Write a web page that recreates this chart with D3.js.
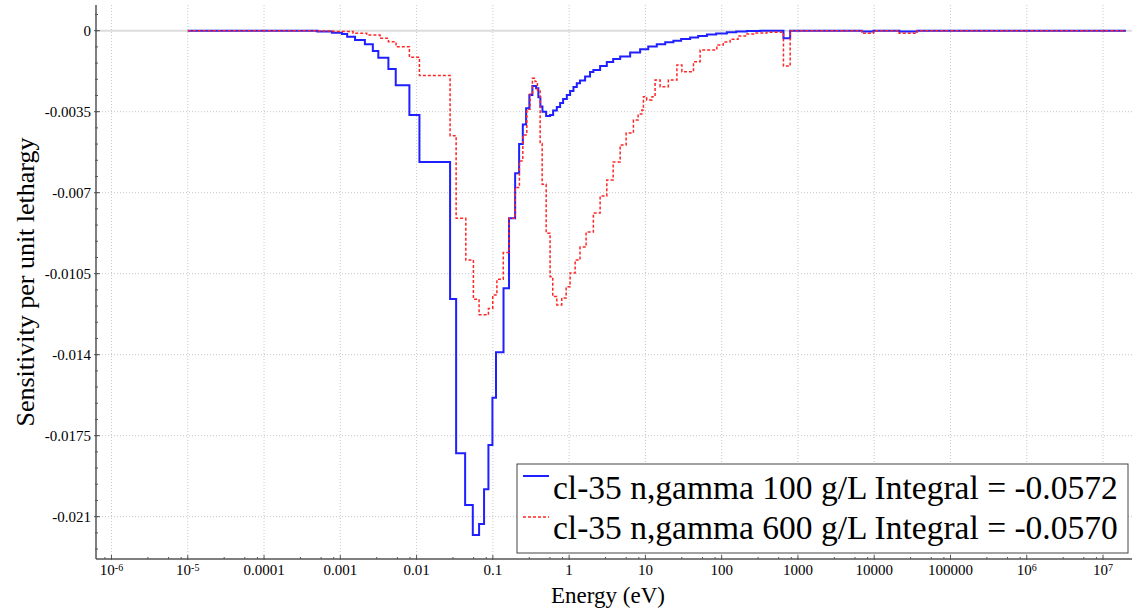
<!DOCTYPE html>
<html>
<head>
<meta charset="utf-8">
<script src="https://cdn.jsdelivr.net/npm/d3@7"></script>
<style>
  body { margin: 0; background: #fff; }
  text { font-family: "Liberation Serif", "Times New Roman", serif; }
</style>
</head>
<body>
<div id="chart"></div>
<script>
// group lower bounds (eV) and sensitivity per unit lethargy
const blueE = [1e-5, 5e-4, 7.8e-4, 1.05e-3, 1.23e-3, 1.56e-3, 2.1e-3, 2.67e-3, 3.15e-3, 4.27e-3,
  5.33e-3, 8.05e-3, 0.0109, 0.0275, 0.033, 0.0433, 0.0546, 0.066, 0.0767, 0.0875,
  0.0987, 0.110, 0.138, 0.163, 0.196, 0.221, 0.247, 0.273, 0.301, 0.330,
  0.369, 0.395, 0.420, 0.447, 0.50, 0.563, 0.617, 0.69, 0.762, 0.834,
  0.933, 1.03, 1.14, 1.26, 1.39, 1.62, 1.88, 2.08, 2.55, 3.12,
  3.78, 4.67, 6.31, 8.53, 10.9, 14.1, 18.2, 23.3, 29.4, 38.6,
  49.2, 64, 84.7, 117, 155, 214, 320, 646, 791, 6900,
  9800, 21300, 36600];
const blueV = [0, -0.00003, -0.00009, -0.00014, -0.00026, -0.0004, -0.00059, -0.00088, -0.00117, -0.00166,
  -0.00236, -0.00364, -0.00567, -0.0116, -0.01826, -0.0205, -0.02179, -0.02132, -0.01982, -0.0179,
  -0.01586, -0.0139, -0.01113, -0.0081, -0.00616, -0.0049, -0.00405, -0.00335, -0.00278, -0.00239,
  -0.00249, -0.00288, -0.00328, -0.0035, -0.00369, -0.00364, -0.00345, -0.0033, -0.00312, -0.00295,
  -0.00278, -0.00261, -0.00243, -0.00227, -0.00215, -0.00198, -0.00179, -0.0017, -0.00153, -0.00135,
  -0.00122, -0.00112, -0.00094, -0.0008, -0.00068, -0.00059, -0.0005, -0.00043, -0.00036, -0.00029,
  -0.00023, -0.00017, -0.00012, -0.00007, -0.00004, -0.00001, 0, -0.00033, 0, -0.00004,
  0, -0.00004, 0];

const redE = [1e-5, 5e-4, 8.0e-4, 1.47e-3, 2.22e-3, 3.32e-3, 4.27e-3, 5.38e-3, 8.05e-3, 0.0109,
  0.0275, 0.033, 0.0442, 0.0556, 0.066, 0.0875, 0.0997, 0.113, 0.137, 0.163,
  0.196, 0.223, 0.247, 0.279, 0.308, 0.330, 0.358, 0.384, 0.417, 0.443,
  0.50, 0.563, 0.61, 0.69, 0.80, 0.914, 1.03, 1.20, 1.39, 1.67,
  2.08, 2.55, 3.12, 3.78, 4.67, 5.59, 6.97, 8.03, 8.98, 9.42,
  10.4, 12.2, 13.4, 15.6, 20.0, 25.9, 30.1, 42.7, 52.2, 86.5,
  105, 129, 164, 214, 283, 392, 646, 791, 6900, 9800,
  21300, 36600];
const redV = [0, -0.00001, -0.00004, -0.00011, -0.00019, -0.00033, -0.00048, -0.00069, -0.00115, -0.00194,
  -0.00454, -0.00811, -0.00991, -0.01161, -0.01228, -0.012, -0.01142, -0.01074, -0.00959, -0.00811,
  -0.00678, -0.00563, -0.00451, -0.0034, -0.00274, -0.00206, -0.0022, -0.00256, -0.00487, -0.00664,
  -0.00875, -0.01063, -0.01149, -0.01185, -0.01155, -0.01107, -0.01047, -0.00991, -0.00935, -0.0087,
  -0.00788, -0.00714, -0.00645, -0.00567, -0.00494, -0.00442, -0.00386, -0.0036, -0.00343, -0.00285,
  -0.00299, -0.00285, -0.00213, -0.00242, -0.00213, -0.00148, -0.00177, -0.00134, -0.00083, -0.00062,
  -0.00049, -0.00037, -0.00023, -0.00014, -0.0001, -0.00007, -0.00153, 0, -0.00011, 0,
  -0.00011, 0];

const eMax = 2e7;

const xTickExps = [-6, -5, -4, -3, -2, -1, 0, 1, 2, 3, 4, 5, 6, 7];
const xTickLabels = ["10|-6", "10|-5", "0.0001", "0.001", "0.01", "0.1", "1", "10", "100", "1000",
  "10000", "100000", "10|6", "10|7"];
const xMinorMult = [3, 5.6, 8.2];
const yTicks = [0, -0.0035, -0.007, -0.0105, -0.014, -0.0175, -0.021];
const yTickLabels = ["0", "-0.0035", "-0.007", "-0.0105", "-0.014", "-0.0175", "-0.021"];
const yMinorStep = 0.0007;

const seriesNames = ["cl-35 n,gamma 100 g/L Integral = -0.0572",
  "cl-35 n,gamma 600 g/L Integral = -0.0570"];

let width = 1132, height = 610;
let margin = {top: 5, right: 0, bottom: 51, left: 96};

let svg = d3.select("#chart").append("svg")
  .attr("width", width)
  .attr("height", height);

let x = d3.scaleLog()
  .domain([Math.pow(10, -6.2032), Math.pow(10, 7.380)])
  .range([margin.left, width - margin.right]);

let y = d3.scaleLinear()
  .domain([-0.02283, 0.00111])
  .range([height - margin.bottom, margin.top]);

let x0 = margin.left, x1 = width - margin.right;
let y0 = height - margin.bottom, y1 = margin.top;

// grid
let grid = svg.append("g");
grid.selectAll(".vgrid")
  .data(xTickExps)
  .enter().append("line")
  .attr("x1", d => x(Math.pow(10, d))).attr("x2", d => x(Math.pow(10, d)))
  .attr("y1", y1).attr("y2", y0)
  .attr("stroke", "#c8c8c8")
  .attr("stroke-dasharray", "1,2");
grid.selectAll(".hgrid")
  .data(yTicks.filter(d => d !== 0))
  .enter().append("line")
  .attr("x1", x0).attr("x2", x1)
  .attr("y1", d => y(d)).attr("y2", d => y(d))
  .attr("stroke", "#c8c8c8")
  .attr("stroke-dasharray", "1,2");
grid.append("line")
  .attr("x1", x0).attr("x2", x1)
  .attr("y1", y(0)).attr("y2", y(0))
  .attr("stroke", "#dcdcdc")
  .attr("stroke-width", 2);

// curves
function steps(E, V) {
  let pts = E.map((e, i) => [e, V[i]]);
  pts.push([eMax, V[V.length - 1]]);
  return pts;
}

let line = d3.line()
  .x(d => x(d[0]))
  .y(d => y(d[1]))
  .curve(d3.curveStepAfter);

svg.append("path")
  .attr("d", line(steps(blueE, blueV)))
  .attr("fill", "none")
  .attr("stroke", "#1f1fff")
  .attr("stroke-width", 2);

svg.append("path")
  .attr("d", line(steps(redE, redV)))
  .attr("fill", "none")
  .attr("stroke", "#ff2626")
  .attr("stroke-width", 1.5)
  .attr("stroke-dasharray", "3,2");

// axes
let axisColor = "#555";
svg.append("line")
  .attr("x1", x0).attr("x2", x0).attr("y1", y1).attr("y2", y0)
  .attr("stroke", axisColor).attr("stroke-width", 1.5);
svg.append("line")
  .attr("x1", x0).attr("x2", x1).attr("y1", y0).attr("y2", y0)
  .attr("stroke", axisColor).attr("stroke-width", 1.5);

// y ticks
let yMinor = d3.range(Math.ceil(y.domain()[0] / yMinorStep), Math.floor(y.domain()[1] / yMinorStep) + 1)
  .map(k => k * yMinorStep);
svg.selectAll(".ymin")
  .data(yMinor)
  .enter().append("line")
  .attr("x1", x0 - 1).attr("x2", x0 + 2)
  .attr("y1", d => y(d)).attr("y2", d => y(d))
  .attr("stroke", axisColor);
svg.selectAll(".ymaj")
  .data(yTicks)
  .enter().append("line")
  .attr("x1", x0 - 2).attr("x2", x0 + 4)
  .attr("y1", d => y(d)).attr("y2", d => y(d))
  .attr("stroke", axisColor);
svg.selectAll(".ylab")
  .data(yTicks)
  .enter().append("text")
  .attr("x", x0 - 5)
  .attr("y", d => y(d))
  .attr("dy", "0.35em")
  .attr("text-anchor", "end")
  .attr("font-size", 15)
  .text((d, i) => yTickLabels[i]);

// x ticks
let xMinor = [];
for (let e = -7; e <= 7; e++) {
  xMinorMult.forEach(m => {
    let v = m * Math.pow(10, e);
    if (v > x.domain()[0] && v < x.domain()[1]) xMinor.push(v);
  });
}
svg.selectAll(".xmin")
  .data(xMinor)
  .enter().append("line")
  .attr("x1", d => x(d)).attr("x2", d => x(d))
  .attr("y1", y0).attr("y2", y0 - 2)
  .attr("stroke", axisColor);
svg.selectAll(".xmaj")
  .data(xTickExps)
  .enter().append("line")
  .attr("x1", d => x(Math.pow(10, d))).attr("x2", d => x(Math.pow(10, d)))
  .attr("y1", y0 + 1).attr("y2", y0 - 4)
  .attr("stroke", axisColor);

let xlab = svg.selectAll(".xlab")
  .data(xTickExps)
  .enter().append("text")
  .attr("x", d => x(Math.pow(10, d)))
  .attr("y", y0 + 16)
  .attr("text-anchor", "middle")
  .attr("font-size", 15);
xlab.each(function (d, i) {
  let t = d3.select(this);
  let parts = xTickLabels[i].split("|");
  t.append("tspan").text(parts[0]);
  if (parts.length > 1) {
    t.append("tspan").attr("font-size", 10).attr("dy", -4).text(parts[1]);
  }
});

// axis titles
svg.append("text")
  .attr("x", 608)
  .attr("y", 603)
  .attr("text-anchor", "middle")
  .attr("font-size", 23)
  .text("Energy (eV)");

svg.append("text")
  .attr("transform", "translate(34," + ((y0 + y1) / 2) + ") rotate(-90)")
  .attr("text-anchor", "middle")
  .attr("font-size", 26)
  .text("Sensitivity per unit lethargy");

// legend
let lg = svg.append("g").attr("transform", "translate(517,464)");
lg.append("rect")
  .attr("width", 611).attr("height", 89)
  .attr("fill", "#fff")
  .attr("stroke", "#444").attr("stroke-width", 1);
let styles = [{c: "#1f1fff", w: 2, dash: null}, {c: "#ff2626", w: 1.5, dash: "3,2"}];
seriesNames.forEach((name, i) => {
  let yy = 12 + i * 41;
  lg.append("line")
    .attr("x1", 6).attr("x2", 32)
    .attr("y1", yy).attr("y2", yy)
    .attr("stroke", styles[i].c)
    .attr("stroke-width", styles[i].w)
    .attr("stroke-dasharray", styles[i].dash);
  lg.append("text")
    .attr("x", 36)
    .attr("y", 35 + i * 40)
    .attr("font-size", 33.5)
    .text(name);
});
</script>
</body>
</html>
